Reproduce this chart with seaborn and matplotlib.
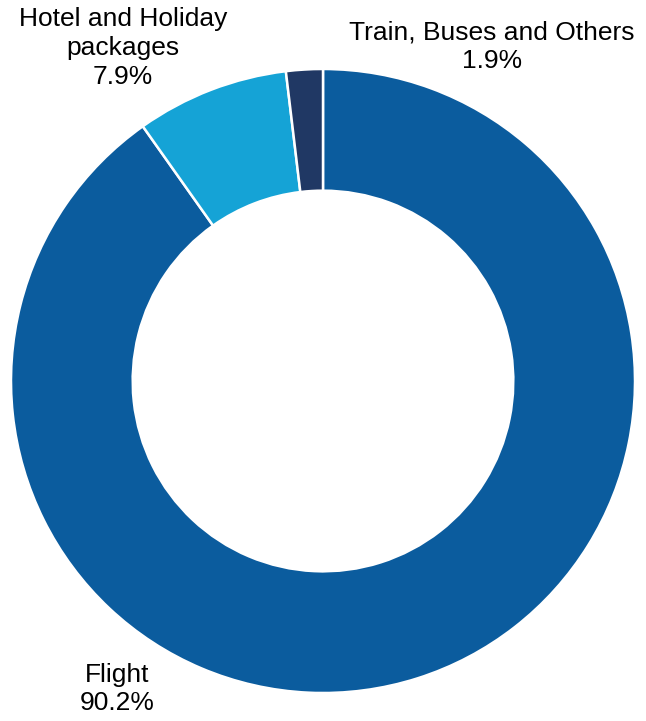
import matplotlib
matplotlib.use("Agg")
import matplotlib.pyplot as plt
import seaborn as sns

categories = ["Flight", "Hotel and Holiday\npackages", "Train, Buses and Others"]
values = [90.2, 7.9, 1.9]
colors = ["#0B5C9E", "#15A3D6", "#203864"]

sns.set_theme(style="white")
plt.rcParams['font.family'] = ['Liberation Sans', 'DejaVu Sans']

W, H = 646, 721
fig = plt.figure(figsize=(W / 100, H / 100), dpi=100)
ax = fig.add_axes([0, 0, 1, 1])

wedges, _ = ax.pie(values, colors=sns.color_palette(colors), startangle=90,
                   counterclock=False, center=(323, H - 381), radius=312,
                   wedgeprops=dict(width=312 * 0.39, edgecolor='white', linewidth=1.8))
ax.set_xlim(0, W)
ax.set_ylim(0, H)
ax.set_aspect('auto')
ax.axis('off')

label_pos = [(117, 689), (123, 48), (492, 47)]
for cat, v, (x, y) in zip(categories, values, label_pos):
    ax.text(x, H - y, f"{cat}\n{v:.1f}%", ha='center', va='center', fontsize=19,
            color='black', linespacing=1.25)

fig.savefig("out.png", dpi=100)
